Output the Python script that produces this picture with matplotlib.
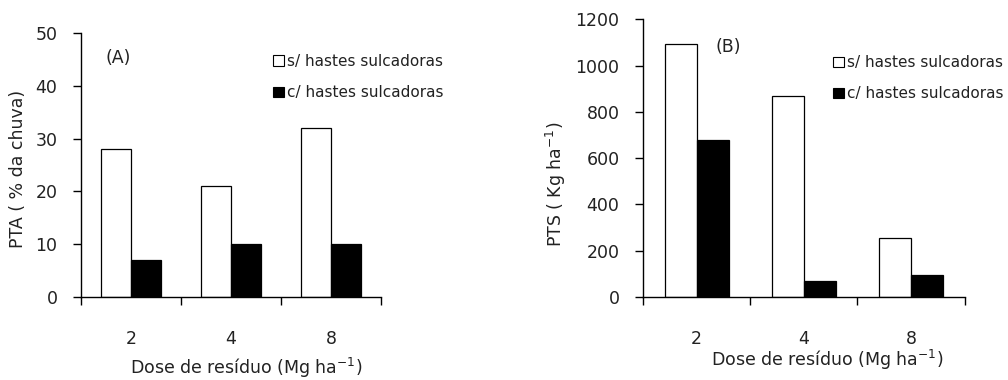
import matplotlib.pyplot as plt
from matplotlib.patches import Patch

# data
doses = ['2', '4', '8']
series = ['s/ hastes sulcadoras', 'c/ hastes sulcadoras']
pta_sem = [28, 21, 32]
pta_com = [7, 10, 10]
pts_sem = [1095, 870, 255]
pts_com = [680, 70, 95]

plt.rcParams['font.family'] = ['DejaVu Sans']
plt.rcParams['text.color'] = '#222222'

fig = plt.figure(figsize=(10.08, 3.8), dpi=100)
ax1 = fig.add_axes([0.0804, 0.2184, 0.2976, 0.6946])
ax2 = fig.add_axes([0.638, 0.2184, 0.319, 0.731])


def draw(ax, sem, com, ymax, ystep, label, tag, tagpos, legpos):
    x = list(range(len(doses)))
    w = 0.3
    ax.bar([i - w / 2 for i in x], sem, w, color='white', edgecolor='black', linewidth=0.9)
    ax.bar([i + w / 2 for i in x], com, w, color='black', edgecolor='black', linewidth=0.9)
    ax.set_xlim(-0.5, len(doses) - 0.5)
    ax.set_ylim(0, ymax)
    ax.set_yticks(range(0, ymax + 1, ystep))
    ax.set_xticks([i - 0.5 for i in range(len(doses) + 1)])
    ax.set_xticklabels([])
    ax.set_xticks(x, minor=True)
    ax.set_xticklabels(doses, minor=True)
    ax.tick_params(axis='x', which='major', direction='out', length=6, width=1)
    ax.tick_params(axis='x', which='minor', length=0, pad=24, labelsize=12.5, labelcolor='#222222')
    ax.tick_params(axis='y', direction='out', length=6, width=1, pad=11, labelsize=12.5,
                   labelcolor='#222222')
    for s in ['top', 'right']:
        ax.spines[s].set_visible(False)
    for s in ['left', 'bottom']:
        ax.spines[s].set_linewidth(1)
    ax.set_ylabel(label, fontsize=12.5, color='#222222')
    ax.text(tagpos[0], tagpos[1], tag, transform=ax.transAxes, fontsize=12.5)
    handles = [Patch(facecolor='white', edgecolor='black', linewidth=0.8),
               Patch(facecolor='black', edgecolor='black', linewidth=0.8)]
    ax.legend(handles, series, loc='upper left', bbox_to_anchor=legpos, frameon=False,
              fontsize=11, handlelength=0.7, handleheight=0.7, handletextpad=0.2,
              labelspacing=1.05, borderaxespad=0, borderpad=0)


xlab = 'Dose de resíduo (Mg ha$^{\\mathregular{-1}}$)'
draw(ax1, pta_sem, pta_com, 50, 10, 'PTA ( % da chuva)', '(A)', (0.08, 0.888), (0.64, 0.92))
draw(ax2, pts_sem, pts_com, 1200, 200, 'PTS ( Kg ha$^{\\mathregular{-1}}$)', '(B)',
     (0.224, 0.882), (0.59, 0.87))

ax1.set_xlabel(xlab, fontsize=12.5, color='#222222')
ax1.xaxis.set_label_coords(0.55, -0.222)
ax2.set_xlabel(xlab, fontsize=12.5, color='#222222')
ax2.xaxis.set_label_coords(0.571, -0.185)
ax1.yaxis.set_label_coords(-0.18, 0.485)
ax2.yaxis.set_label_coords(-0.233, 0.405)

fig.savefig('out.png', dpi=100)
